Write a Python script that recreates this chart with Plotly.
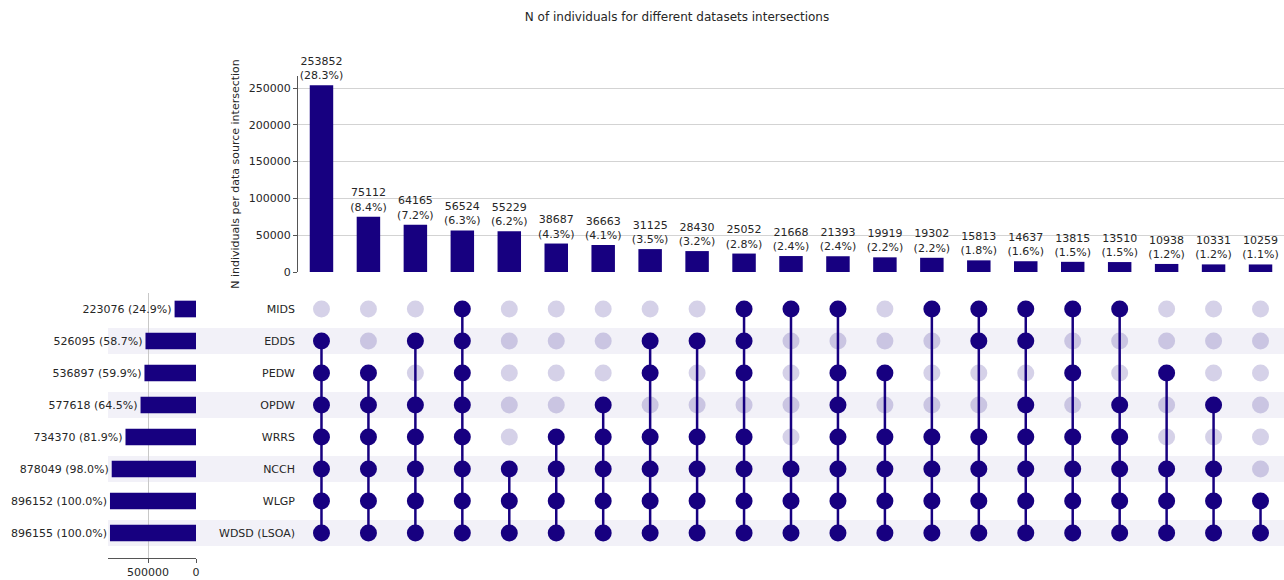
import plotly.graph_objects as go

W, H = 1284, 580

# intersection sizes, in the order of the columns
counts = [253852, 75112, 64165, 56524, 55229, 38687, 36663, 31125, 28430, 25052,
          21668, 21393, 19919, 19302, 15813, 14637, 13815, 13510, 10938, 10331, 10259]
total_n = 896155

# data sources, top to bottom, and their totals
sets = ["MIDS", "EDDS", "PEDW", "OPDW", "WRRS", "NCCH", "WLGP", "WDSD"]
set_labels = ["MIDS", "EDDS", "PEDW", "OPDW", "WRRS", "NCCH", "WLGP", "WDSD (LSOA)"]
set_totals = [223076, 526095, 536897, 577618, 734370, 878049, 896152, 896155]

# which sources make up each intersection
intersections = [
    ["EDDS", "PEDW", "OPDW", "WRRS", "NCCH", "WLGP", "WDSD"],
    ["PEDW", "OPDW", "WRRS", "NCCH", "WLGP", "WDSD"],
    ["EDDS", "OPDW", "WRRS", "NCCH", "WLGP", "WDSD"],
    ["MIDS", "EDDS", "PEDW", "OPDW", "WRRS", "NCCH", "WLGP", "WDSD"],
    ["NCCH", "WLGP", "WDSD"],
    ["WRRS", "NCCH", "WLGP", "WDSD"],
    ["OPDW", "WRRS", "NCCH", "WLGP", "WDSD"],
    ["EDDS", "PEDW", "WRRS", "NCCH", "WLGP", "WDSD"],
    ["EDDS", "WRRS", "NCCH", "WLGP", "WDSD"],
    ["MIDS", "EDDS", "PEDW", "WRRS", "NCCH", "WLGP", "WDSD"],
    ["MIDS", "NCCH", "WLGP", "WDSD"],
    ["MIDS", "PEDW", "OPDW", "WRRS", "NCCH", "WLGP", "WDSD"],
    ["PEDW", "WRRS", "NCCH", "WLGP", "WDSD"],
    ["MIDS", "WRRS", "NCCH", "WLGP", "WDSD"],
    ["MIDS", "EDDS", "WRRS", "NCCH", "WLGP", "WDSD"],
    ["MIDS", "EDDS", "OPDW", "WRRS", "NCCH", "WLGP", "WDSD"],
    ["MIDS", "PEDW", "WRRS", "NCCH", "WLGP", "WDSD"],
    ["MIDS", "OPDW", "WRRS", "NCCH", "WLGP", "WDSD"],
    ["PEDW", "NCCH", "WLGP", "WDSD"],
    ["OPDW", "NCCH", "WLGP", "WDSD"],
    ["WLGP", "WDSD"],
]

DARK = "#170080"
FONT = "DejaVu Sans"
TXT = "#262626"


def fx(p):
    return p / W


def fy(p):
    return 1 - p / H


cols = list(range(len(counts)))
rows = list(range(len(sets)))

fig = go.Figure()

# top bars
fig.add_trace(go.Bar(
    x=cols, y=counts, width=0.5, marker=dict(color=DARK, line=dict(width=0)),
    text=["{}<br>({:.1f}%)".format(c, 100 * c / total_n) for c in counts],
    textposition="outside", constraintext="none", cliponaxis=False,
    textfont=dict(size=11, color=TXT, family=FONT),
    xaxis="x", yaxis="y", hoverinfo="skip",
))

# matrix dots and connectors
lx, ly, dx, dy, segx, segy = [], [], [], [], [], []
for c, members in zip(cols, intersections):
    idx = [sets.index(m) for m in members]
    for r in rows:
        if r in idx:
            dx.append(c)
            dy.append(r)
        else:
            lx.append(c)
            ly.append(r)
    segx += [c, c, None]
    segy += [min(idx), max(idx), None]

fig.add_trace(go.Scatter(
    x=lx, y=ly, mode="markers", xaxis="x2", yaxis="y2",
    marker=dict(size=17, color=DARK, opacity=0.18, line=dict(width=0)),
    hoverinfo="skip",
))
fig.add_trace(go.Scatter(
    x=segx, y=segy, mode="lines", xaxis="x2", yaxis="y2",
    line=dict(color=DARK, width=2.5), hoverinfo="skip",
))
fig.add_trace(go.Scatter(
    x=dx, y=dy, mode="markers", xaxis="x2", yaxis="y2",
    marker=dict(size=17, color=DARK, line=dict(width=0)),
    hoverinfo="skip",
))

# left bars: totals per source
fig.add_trace(go.Bar(
    x=set_totals, y=rows, orientation="h", width=0.52,
    marker=dict(color=DARK, line=dict(width=0)),
    text=["{} ({:.1f}%)".format(t, 100 * t / total_n) for t in set_totals],
    textposition="outside", constraintext="none", cliponaxis=False,
    textfont=dict(size=11, color=TXT, family=FONT),
    xaxis="x3", yaxis="y3", hoverinfo="skip",
))

# stripes on every second row
shapes = []
for r in rows:
    if r % 2 == 1:
        shapes.append(dict(
            type="rect", xref="paper", yref="y2", x0=fx(108), x1=1,
            y0=r - 0.41, y1=r + 0.41, fillcolor="#f2f1f8",
            line=dict(width=0), layer="below",
        ))

fig.update_layout(
    width=W, height=H,
    margin=dict(l=0, r=0, t=0, b=0, autoexpand=False),
    paper_bgcolor="white", plot_bgcolor="rgba(0,0,0,0)",
    showlegend=False,
    font=dict(family=FONT, size=11, color=TXT),
    title=dict(text="N of individuals for different datasets intersections",
               x=fx(677), xanchor="center", y=fy(17), yanchor="middle",
               font=dict(size=12, color=TXT, family=FONT)),
    shapes=shapes,
    xaxis=dict(domain=[fx(298), 1], range=[-0.5, len(counts) - 0.5],
               showticklabels=False, showgrid=False, zeroline=False,
               showline=False, ticks="", automargin=False),
    yaxis=dict(domain=[fy(272), fy(76)], range=[0, 266300],
               tickvals=[0, 50000, 100000, 150000, 200000, 250000],
               tickformat="d", showgrid=True, gridcolor="#d3d3d3", gridwidth=1,
               zeroline=False, showline=True, linecolor="#555", linewidth=1,
               ticks="outside", ticklen=4, tickcolor="#555", automargin=False,
               tickfont=dict(size=11, color=TXT),
               title=dict(text="N individuals per data source intersection",
                          font=dict(size=11, color=TXT), standoff=6)),
    xaxis2=dict(domain=[fx(298), 1], range=[-0.5, len(counts) - 0.5],
                anchor="y2", showticklabels=False, showgrid=False,
                zeroline=False, showline=False, automargin=False),
    yaxis2=dict(domain=[fy(549), fy(293)], range=[len(sets) - 0.5, -0.5],
                anchor="x2", tickvals=rows, ticktext=set_labels,
                showgrid=False, zeroline=False, showline=False, ticks="",
                tickfont=dict(size=11, color=TXT), ticklabelstandoff=2,
                automargin=False),
    xaxis3=dict(domain=[fx(108), fx(196)], range=[916667, 0], anchor="y3",
                tickvals=[0, 500000], tickformat="d",
                showgrid=True, gridcolor="#c8c8c8", zeroline=False,
                showline=True, linecolor="#555", ticks="outside", ticklen=4,
                tickcolor="#555", tickfont=dict(size=11, color=TXT),
                automargin=False),
    yaxis3=dict(domain=[fy(558), fy(293)], range=[7.78125, -0.5], anchor="x3",
                showticklabels=False, showgrid=False, zeroline=False,
                showline=False, ticks="", automargin=False),
)

fig.write_html("out.html", config={"displayModeBar": False},
               post_script="document.body.style.margin='0px';")
